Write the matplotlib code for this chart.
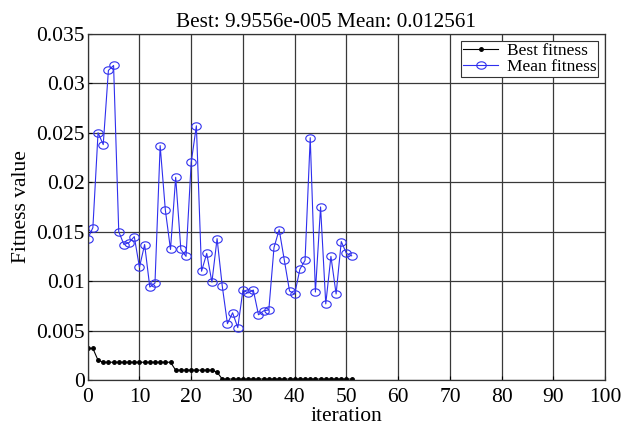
import matplotlib
matplotlib.use("Agg")
import matplotlib.pyplot as plt
import numpy as np
from matplotlib.path import Path

iterations = list(range(52))
best_fitness = [0.0032, 0.0032, 0.0020] + [0.0018] * 14 + [0.0010] * 8 + [0.0008] + [0.0001] * 25 + [9.9556e-05]
mean_fitness = [0.0143, 0.0154, 0.0250, 0.0238, 0.0313, 0.0318, 0.0150, 0.0137, 0.0139, 0.0145,
                0.0114, 0.0137, 0.0094, 0.0098, 0.0237, 0.0172, 0.0132, 0.0205, 0.0132, 0.0125,
                0.0220, 0.0257, 0.0110, 0.0128, 0.0099, 0.0143, 0.0095, 0.0057, 0.0068, 0.0053,
                0.0091, 0.0088, 0.0091, 0.0066, 0.0070, 0.0071, 0.0134, 0.0152, 0.0121, 0.0090,
                0.0087, 0.0112, 0.0121, 0.0245, 0.0089, 0.0175, 0.0077, 0.0125, 0.0087, 0.0140,
                0.0128, 0.012561]
xticks = list(range(0, 101, 10))
yticks = [0, 0.005, 0.01, 0.015, 0.02, 0.025, 0.03, 0.035]
ytick_labels = ["0", "0.005", "0.01", "0.015", "0.02", "0.025", "0.03", "0.035"]

plt.rcParams['font.family'] = ['Liberation Serif', 'DejaVu Serif']

# slightly flattened circle marker (the reference figure is stretched horizontally)
t = np.linspace(0, 2 * np.pi, 41)
ellipse = Path(np.column_stack([np.cos(t), 0.78 * np.sin(t)]), closed=True)

fig = plt.figure(figsize=(6.22, 4.28), dpi=100)
ax = fig.add_axes([0.141, 0.112, 0.832, 0.809])

ax.plot(iterations, best_fitness, color='black', marker='.', markersize=5, linewidth=0.8,
        label='Best fitness')
ax.plot(iterations, mean_fitness, color='#2f2fee', marker=ellipse, markersize=6.8, markerfacecolor='none',
        markeredgewidth=0.8, linewidth=0.8, label='Mean fitness')

ax.set_xlim(0, 100)
ax.set_ylim(0, 0.035)
ax.set_xticks(xticks)
ax.set_yticks(yticks)
ax.set_yticklabels(ytick_labels)
ax.tick_params(axis='both', labelsize=15.5, direction='in', length=3)
ax.tick_params(axis='x', pad=6)
ax.tick_params(axis='y', pad=2)
ax.grid(True, color='#383838', linewidth=0.9, linestyle='-')
ax.set_axisbelow(True)
for s in ax.spines.values():
    s.set_color('#333333')
    s.set_linewidth(0.9)

ax.set_title('Best: 9.9556e-005 Mean: 0.012561', fontsize=15.3, pad=5, x=0.46)
ax.set_xlabel('iteration', fontsize=15.5, labelpad=0)
ax.set_ylabel('Fitness value', fontsize=15.5, labelpad=4)

leg = ax.legend(loc='upper right', fontsize=12.5, frameon=True, fancybox=False,
                edgecolor='#333333', borderpad=0.12, handlelength=2.0, labelspacing=0.0,
                handletextpad=0.5, borderaxespad=0.4, framealpha=1)
leg.get_frame().set_linewidth(0.8)

fig.savefig('out.png', dpi=100)
